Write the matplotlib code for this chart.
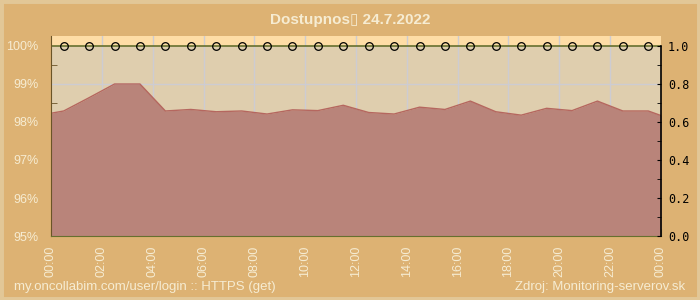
import numpy as np
import matplotlib
matplotlib.use("Agg")
import matplotlib.pyplot as plt
from matplotlib.ticker import MultipleLocator
from matplotlib.patches import Rectangle

plt.rcParams["font.family"] = ["Liberation Sans", "DejaVu Sans"]

# data: availability (%) per hour, points at the half hour plus both day edges
hours = [0.0] + [h + 0.5 for h in range(24)] + [24.0]
availability = [98.23,
                98.29, 98.64, 99.00, 99.00, 98.29, 98.33, 98.27, 98.29,
                98.21, 98.32, 98.30, 98.44, 98.25, 98.21, 98.39, 98.33,
                98.55, 98.27, 98.18, 98.36, 98.30, 98.55, 98.29, 98.29,
                98.17]
marker_hours = [h + 0.5 for h in range(24)]
marker_values = [100.0] * 24
tick_hours = list(range(0, 25, 2))
tick_labels = ["%02d:00" % (h % 24) for h in tick_hours]
left_ticks = [95, 96, 97, 98, 99, 100]
left_labels = ["95%", "96%", "97%", "98%", "99%", "100%"]
right_ticks = [0.0, 0.2, 0.4, 0.6, 0.8, 1.0]
right_labels = ["0.0", "0.2", "0.4", "0.6", "0.8", "1.0"]

title = "Dostupnos\u25af 24.7.2022"
footer_left = "my.oncollabim.com/user/login :: HTTPS (get)"
footer_right = "Zdroj: Monitoring-serverov.sk"

cream = "#F6ECD2"
bg = "#DDB273"

fig = plt.figure(figsize=(7, 3), dpi=100, facecolor=bg)
# light frame around the picture
fig.patches.append(Rectangle((0, 0), 1, 1, transform=fig.transFigure,
                             fill=False, edgecolor="#E2C797", linewidth=5))

ax = fig.add_axes([51 / 700, 64 / 300, 610 / 700, 200 / 300])
ymax = 100 + 10 / 38
ax.set_xlim(0, 24)
ax.set_ylim(95, ymax)
ax.set_facecolor("#DFCEAE")
ax.axhspan(100, ymax, color="#FEDDA6", zorder=0, lw=0)

# grid
for h in range(2, 24, 2):
    ax.axvline(h, color="#CDCCD2", lw=1, zorder=1)
for v in range(96, 100):
    ax.axhline(v, color="#CDCCD2", lw=1, zorder=1)

ax.fill_between(hours, 95, availability, color="#B9847A", lw=0, zorder=2)
ax.plot(hours, availability, color="#B5675F", lw=1, zorder=3)

ax.plot([0, 24], [100, 100], color="#66702F", lw=1.2, zorder=4)
ax.plot(marker_hours, marker_values, ls="none", marker="o", ms=5.5,
        mfc="none", mec="black", mew=0.9, zorder=5)

ax.spines["top"].set_visible(False)
ax.spines["right"].set_visible(False)
ax.spines["left"].set_color("#6B5427")
ax.spines["bottom"].set_color("#66702F")
ax.spines["left"].set_zorder(6)
ax.spines["bottom"].set_zorder(6)

ax.set_yticks(left_ticks)
ax.set_yticklabels(left_labels)
ax.yaxis.set_minor_locator(MultipleLocator(0.5))
ax.tick_params(axis="y", which="both", direction="in", color="#6B5427",
               labelcolor=cream, labelsize=9, length=4)
ax.tick_params(axis="y", which="major", length=0, pad=9)

ax.set_xticks(tick_hours)
ax.set_xticklabels(tick_labels, rotation=90)
ax.xaxis.set_minor_locator(MultipleLocator(1))
ax.tick_params(axis="x", which="major", direction="in", length=5,
               color="#66702F", labelcolor=cream, labelsize=9, pad=7)
ax.tick_params(axis="x", which="minor", direction="in", length=3,
               color="#66702F")

ax2 = ax.twinx()
ax2.set_ylim(0, (ymax - 95) / 5)
ax2.set_yticks(right_ticks)
ax2.set_yticklabels(right_labels, family="DejaVu Sans Mono")
ax2.yaxis.set_minor_locator(MultipleLocator(0.1))
ax2.tick_params(axis="y", which="both", direction="in", color="black",
                labelcolor="black", labelsize=8.5, length=3, pad=5)
for s in ["top", "left", "bottom"]:
    ax2.spines[s].set_visible(False)
ax2.spines["right"].set_color("black")
ax2.spines["right"].set_bounds(0, 1.0)
ax2.spines["right"].set_linewidth(1.2)

fig.text(0.5, 0.932, title, ha="center", va="center", color=cream,
         fontsize=11, fontweight="bold")
fig.text(14 / 700, 13 / 300, footer_left, ha="left", va="center",
         color=cream, fontsize=9.5)
fig.text(685 / 700, 13 / 300, footer_right, ha="right", va="center",
         color=cream, fontsize=9.5)

fig.savefig("out.png", dpi=100, facecolor=bg)
